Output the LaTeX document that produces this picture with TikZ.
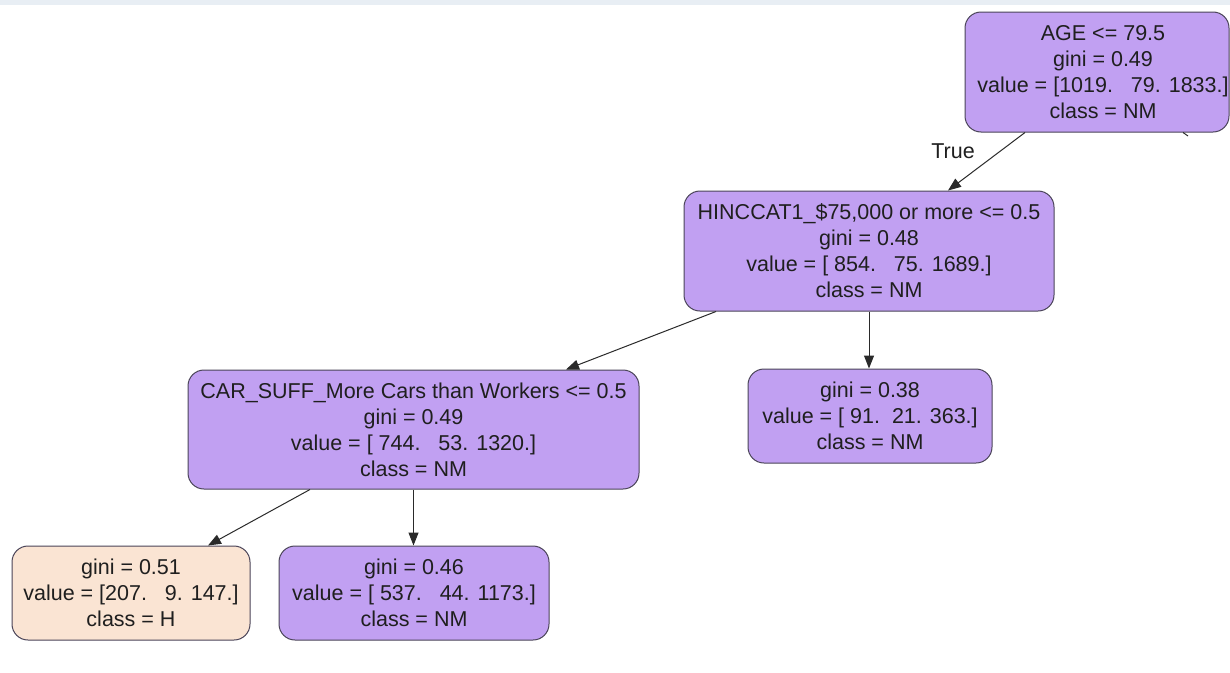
\documentclass[tikz,border=0pt]{standalone}
\usepackage{fontspec}
\setmainfont{Liberation Sans}
\usetikzlibrary{arrows.meta}
\definecolor{nmfill}{HTML}{C1A0F2}
\definecolor{hfill}{HTML}{FAE4D3}
\definecolor{edgecol}{HTML}{2A2A2A}
\definecolor{bordercol}{HTML}{4A4458}
\definecolor{bandcol}{HTML}{E8EEF4}
\tikzset{
  tnode/.style={draw=bordercol, line width=1pt, rounded corners=16pt, align=center,
    font=\fontsize{21.5}{26}\selectfont, inner sep=0pt, text=black!88},
  nm/.style={tnode, fill=nmfill},
  hh/.style={tnode, fill=hfill},
  edge/.style={draw=edgecol, line width=1pt, -{Triangle[length=13pt,width=10pt]}},
  lbl/.style={font=\fontsize{21.5}{22}\selectfont, text=black!88}
}
\begin{document}
\begin{tikzpicture}[x=1pt,y=-1pt]
\useasboundingbox (0,0) rectangle (1230,672);
\fill[white] (0,0) rectangle (1230,672);
\fill[bandcol] (0,0) rectangle (1230,5);

\node[nm, minimum width=264pt, minimum height=120pt] (root) at (1097,72)
  {\hspace*{12pt}AGE <= 79.5\\\hspace*{12pt}gini = 0.49\\\hspace*{12pt}value = [1019.\ \ \ 79. 1833.]\\\hspace*{12pt}class = NM};
\node[nm, minimum width=370pt, minimum height=120pt] (hinc) at (869,251)
  {HINCCAT1\_\$75,000 or more <= 0.5\\gini = 0.48\\value = [ 854.\ \ \ 75. 1689.]\\class = NM};
\node[nm, minimum width=451pt, minimum height=119pt] (car) at (413.5,429.5)
  {CAR\_SUFF\_More Cars than Workers <= 0.5\\gini = 0.49\\value = [ 744.\ \ \ 53. 1320.]\\class = NM};
\node[nm, minimum width=244pt, minimum height=94pt] (rleaf) at (870,416)
  {gini = 0.38\\value = [ 91.\ \ 21. 363.]\\class = NM};
\node[hh, minimum width=238pt, minimum height=94pt] (hleaf) at (131,593)
  {gini = 0.51\\value = [207.\ \ \ 9. 147.]\\class = H};
\node[nm, minimum width=270pt, minimum height=94pt] (mleaf) at (414,593)
  {gini = 0.46\\value = [ 537.\ \ \ 44. 1173.]\\class = NM};

\draw[edge] ([xshift=-72pt]root.south) -- ([xshift=79pt]hinc.north);
\node[lbl] (truelbl) at (953,151) {True};
\coordinate (falseend) at (1188,136);
\draw[draw=edgecol, line width=1pt] ([xshift=86pt]root.south) -- (falseend);
\draw[edge] ([xshift=-153pt]hinc.south) -- ([xshift=152.5pt]car.north);
\draw[edge] (hinc.south) -- (rleaf.north -| hinc.south);
\draw[edge] ([xshift=-103.5pt]car.south) -- ([xshift=77pt]hleaf.north);
\draw[edge] (car.south) -- (mleaf.north -| car.south);
\end{tikzpicture}
\end{document}
